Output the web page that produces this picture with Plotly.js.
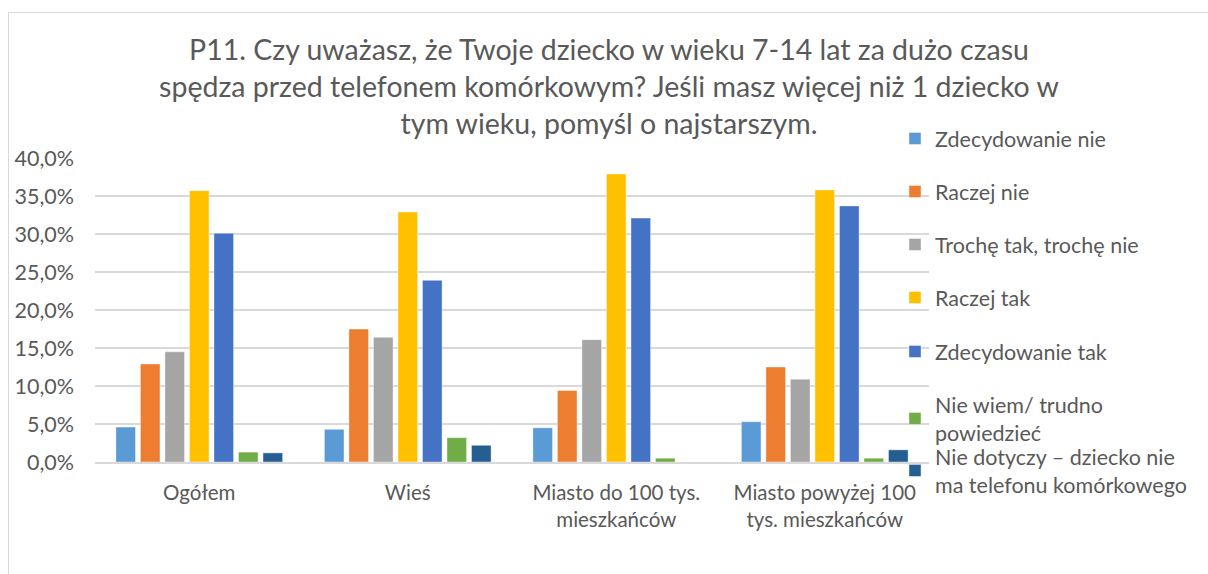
<!DOCTYPE html>
<html>
<head>
<meta charset="utf-8">
<script src="https://cdn.plot.ly/plotly-3.0.1.min.js"></script>
<style>
  html, body { margin: 0; padding: 0; background: #ffffff; }
  #wrap { position: relative; width: 1208px; height: 574px; overflow: hidden; background: #fff; }
  #frame { position: absolute; left: 8px; top: 12px; width: 1300px; height: 700px; border: 1px solid #d9d9d9; box-sizing: border-box; pointer-events: none; }
  #chart { position: absolute; left: 0; top: 0; width: 1208px; height: 574px; }
</style>
</head>
<body>
<div id="wrap">
  <div id="frame"></div>
  <div id="chart"></div>
</div>
<script>
const categories = ["Ogółem", "Wieś", "Miasto do 100 tys.<br>mieszkańców", "Miasto powyżej 100<br>tys. mieszkańców"];

const seriesNames = [
  "Zdecydowanie nie",
  "Raczej nie",
  "Trochę tak, trochę nie",
  "Raczej tak",
  "Zdecydowanie tak",
  "Nie wiem/ trudno<br>powiedzieć",
  "Nie dotyczy – dziecko nie<br>ma telefonu komórkowego"
];

const zdecydowanieNie = [4.6, 4.3, 4.5, 5.3];
const raczejNie = [12.9, 17.5, 9.4, 12.5];
const trocheTak = [14.5, 16.4, 16.1, 10.9];
const raczejTak = [35.7, 32.9, 37.9, 35.8];
const zdecydowanieTak = [30.1, 23.9, 32.1, 33.7];
const nieWiem = [1.3, 3.2, 0.5, 0.5];
const nieDotyczy = [1.2, 2.2, 0.0, 1.6];

const seriesValues = [zdecydowanieNie, raczejNie, trocheTak, raczejTak, zdecydowanieTak, nieWiem, nieDotyczy];
const colors = ["#5B9BD5", "#ED7D31", "#A5A5A5", "#FFC000", "#4472C4", "#70AD47", "#255E91"];

const FONT = "Lato, 'Open Sans', sans-serif";
const TXT = "#595959";

// plot area pixels
const L = 95, R = 929, T = 158, B = 462;
const W = 1208, H = 574;
const px2x = p => (p - L) / (R - L);
const px2y = p => (B - p) / (B - T);

// legend line centres (px) of the first text line of each item
const legendCenters = [138, 191, 244, 297, 351, 404, 456];

const traces = seriesNames.map((name, i) => ({
  type: "bar",
  name: name,
  x: categories,
  y: seriesValues[i],
  marker: { color: colors[i], line: { color: "rgba(255,255,255,0.5)", width: 0.8 } },
  legend: i === 0 ? "legend" : "legend" + (i + 1),
  hovertemplate: "%{y:.1f}%<extra>" + name + "</extra>"
}));

const layout = {
  width: W,
  height: H,
  paper_bgcolor: "rgba(0,0,0,0)",
  plot_bgcolor: "rgba(0,0,0,0)",
  margin: { l: L, r: W - R, t: T, b: H - B, pad: 0 },
  separators: ", ",
  font: { family: FONT, color: TXT, size: 21 },
  title: {
    text: "P11. Czy uważasz, że Twoje dziecko w wieku 7-14 lat za dużo czasu<br>spędza przed telefonem komórkowym? Jeśli masz więcej niż 1 dziecko w<br>tym wieku, pomyśl o najstarszym.",
    font: { family: FONT, size: 28.5, color: TXT },
    x: 609 / W,
    xref: "container",
    xanchor: "center",
    y: 1 - 60 / H,
    yref: "container",
    yanchor: "top"
  },
  barmode: "group",
  bargap: 0.177,
  bargroupgap: 0.2,
  showlegend: true,
  xaxis: {
    type: "category",
    showgrid: false,
    showline: true,
    linecolor: "#d9d9d9",
    linewidth: 1.5,
    ticks: "",
    tickfont: { family: FONT, size: 20.5, color: TXT },
    ticklabelstandoff: 12,
    fixedrange: true
  },
  yaxis: {
    range: [0, 40],
    dtick: 5,
    tick0: 0,
    tickformat: ".1f",
    ticksuffix: "%",
    showgrid: true,
    gridcolor: "#d9d9d9",
    gridwidth: 1.5,
    zeroline: false,
    showline: false,
    ticks: "",
    tickfont: { family: FONT, size: 21.5, color: TXT },
    ticklabelstandoff: 20,
    fixedrange: true
  }
};

legendCenters.forEach((c, i) => {
  const key = i === 0 ? "legend" : "legend" + (i + 1);
  layout[key] = {
    x: px2x(895),
    xanchor: "left",
    y: px2y(c - 20),
    yanchor: "top",
    bgcolor: "rgba(0,0,0,0)",
    borderwidth: 0,
    font: { family: FONT, size: 21.5, color: TXT },
    itemclick: false,
    itemdoubleclick: false
  };
});

Plotly.newPlot("chart", traces, layout, { displayModeBar: false, staticPlot: true });
</script>
</body>
</html>
